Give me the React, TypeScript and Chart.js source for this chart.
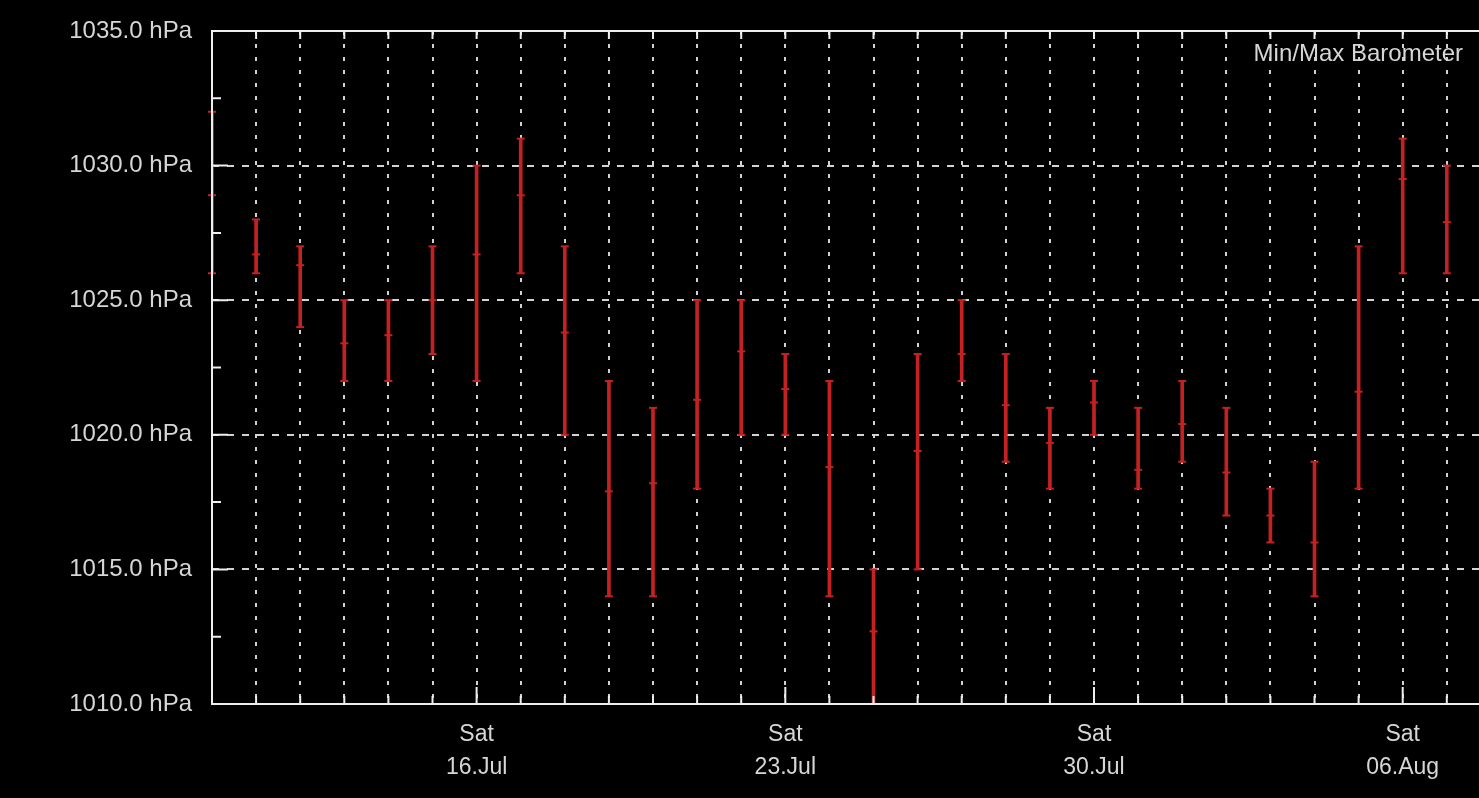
import React, { useEffect, useRef } from 'react';
import { Chart, registerables } from 'chart.js';

Chart.register(...registerables);

// ---- data ----
const dates = [
  '10.Jul', '11.Jul', '12.Jul', '13.Jul', '14.Jul', '15.Jul', '16.Jul',
  '17.Jul', '18.Jul', '19.Jul', '20.Jul', '21.Jul', '22.Jul', '23.Jul',
  '24.Jul', '25.Jul', '26.Jul', '27.Jul', '28.Jul', '29.Jul', '30.Jul',
  '31.Jul', '01.Aug', '02.Aug', '03.Aug', '04.Aug', '05.Aug', '06.Aug', '07.Aug',
];
const weekdays = [
  'Sun', 'Mon', 'Tue', 'Wed', 'Thu', 'Fri', 'Sat',
  'Sun', 'Mon', 'Tue', 'Wed', 'Thu', 'Fri', 'Sat',
  'Sun', 'Mon', 'Tue', 'Wed', 'Thu', 'Fri', 'Sat',
  'Sun', 'Mon', 'Tue', 'Wed', 'Thu', 'Fri', 'Sat', 'Sun',
];
const maxPressure = [
  1032, 1028, 1027, 1025, 1025, 1027, 1030, 1031, 1027, 1022, 1021, 1025, 1025, 1023,
  1022, 1015, 1023, 1025, 1023, 1021, 1022, 1021, 1022, 1021, 1018, 1019, 1027, 1031, 1030,
];
const avgPressure = [
  1028.9, 1026.7, 1026.3, 1023.4, 1023.7, 1025.0, 1026.7, 1028.9, 1023.8, 1017.9, 1018.2,
  1021.3, 1023.1, 1021.7, 1018.8, 1012.7, 1019.4, 1023.0, 1021.1, 1019.7, 1021.2, 1018.7,
  1020.4, 1018.6, 1017.0, 1016.0, 1021.6, 1029.5, 1027.9,
];
const minPressure = [
  1026, 1026, 1024, 1022, 1022, 1023, 1022, 1026, 1020, 1014, 1014, 1018, 1020, 1020,
  1014, 1009, 1015, 1022, 1019, 1018, 1020, 1018, 1019, 1017, 1016, 1014, 1018, 1026, 1026,
];
const yMin = 1010;
const yMax = 1035;
const yStep = 2.5;
const yLabelStep = 5;
const chartTitle = 'Min/Max Barometer';

const RED = '#c42222';
const GRID = '#d2d2d2';
const TEXT = '#d6d6d6';
const FRAME = '#eeeeee';
const FONT = '"Liberation Sans", Arial, sans-serif';

const framePlugin = {
  id: 'frame',
  afterDatasetsDraw(chart: any) {
    const { ctx, chartArea, scales } = chart;
    const { left, top, right, bottom } = chartArea;
    const x = scales.x;
    const y = scales.y;
    ctx.save();
    ctx.strokeStyle = FRAME;
    ctx.lineWidth = 2;
    ctx.setLineDash([]);
    ctx.beginPath();
    ctx.moveTo(right + 10, top);
    ctx.lineTo(left, top);
    ctx.lineTo(left, bottom);
    ctx.lineTo(right + 10, bottom);
    // y ticks (inward)
    y.ticks.forEach((t: any) => {
      if (t.value <= yMin || t.value >= yMax) return;
      const py = y.getPixelForValue(t.value);
      const major = t.value % yLabelStep === 0;
      ctx.moveTo(left, py);
      ctx.lineTo(left + (major ? 16 : 9), py);
    });
    // x ticks (inward, bottom and top)
    x.ticks.forEach((t: any) => {
      if (!Number.isInteger(t.value) || t.value <= 0) return;
      const px = x.getPixelForValue(t.value);
      const sat = weekdays[t.value] === 'Sat';
      ctx.moveTo(px, bottom);
      ctx.lineTo(px, bottom - (sat ? 17 : 8));
      ctx.moveTo(px, top);
      ctx.lineTo(px, top + 8);
    });
    ctx.stroke();
    ctx.font = `24px ${FONT}`;
    ctx.fillStyle = TEXT;
    ctx.textAlign = 'right';
    ctx.textBaseline = 'middle';
    ctx.fillText(chartTitle, 1463, top + 23);
    ctx.restore();
  },
};

export default function App() {
  const canvasRef = useRef<HTMLCanvasElement | null>(null);

  useEffect(() => {
    const canvas = canvasRef.current;
    if (!canvas) return;
    const idx = dates.map((_, i) => i);
    const pointDs = (values: number[]) => ({
      type: 'scatter' as const,
      data: idx.map((i) => ({ x: i, y: values[i] })),
      pointStyle: 'line',
      radius: 4,
      hoverRadius: 4,
      borderColor: RED,
      backgroundColor: RED,
      borderWidth: 2,
      showLine: false,
      clip: { left: 6, top: 0, right: 0, bottom: 0 },
    });
    const chart = new Chart(canvas, {
      type: 'bar',
      data: {
        datasets: [
          pointDs(maxPressure) as any,
          pointDs(avgPressure) as any,
          pointDs(minPressure) as any,
          {
            type: 'bar',
            data: idx.map((i) => ({ x: i, y: [minPressure[i], maxPressure[i]] })),
            backgroundColor: RED,
            borderWidth: 0,
            barThickness: 3,
            grouped: false,
          } as any,
        ],
      },
      options: {
        responsive: false,
        animation: false,
        devicePixelRatio: 1,
        layout: { autoPadding: false, padding: { top: 31, left: 0, right: 0, bottom: 0 } },
        plugins: {
          legend: { display: false },
          tooltip: { enabled: false },
          title: { display: false },
        },
        scales: {
          x: {
            type: 'linear',
            min: 0,
            max: 28.73,
            offset: false,
            afterFit: (s: any) => {
              s.height = 94;
              s.paddingLeft = 0;
              s.paddingRight = 0;
            },
            grid: {
              offset: false,
              drawTicks: false,
              lineWidth: 2,
              color: (c: any) =>
                c.tick && Number.isInteger(c.tick.value) && c.tick.value > 0 ? GRID : 'rgba(0,0,0,0)',
            },
            border: { display: false, dash: [4, 9] },
            ticks: {
              stepSize: 1,
              includeBounds: false,
              autoSkip: false,
              maxRotation: 0,
              minRotation: 0,
              maxTicksLimit: 100,
              padding: 14,
              color: TEXT,
              font: { family: FONT, size: 23, lineHeight: 1.43 },
              callback: (v: any) => {
                const i = Number(v);
                if (!Number.isInteger(i) || weekdays[i] !== 'Sat') return '';
                return [weekdays[i], dates[i]];
              },
            },
          },
          y: {
            type: 'linear',
            min: yMin,
            max: yMax,
            afterFit: (s: any) => {
              s.width = 212;
              s.paddingTop = 0;
              s.paddingBottom = 0;
            },
            grid: {
              drawTicks: false,
              lineWidth: 2,
              color: (c: any) =>
                c.tick && c.tick.value % yLabelStep === 0 && c.tick.value > yMin && c.tick.value < yMax
                  ? GRID
                  : 'rgba(0,0,0,0)',
            },
            border: { display: false, dash: [7, 8] },
            ticks: {
              stepSize: yStep,
              padding: 20,
              color: TEXT,
              font: { family: FONT, size: 24 },
              callback: (v: any) =>
                Number(v) % yLabelStep === 0 ? `${Number(v).toFixed(1)} hPa` : '',
            },
          },
        },
      },
      plugins: [framePlugin],
    });
    return () => chart.destroy();
  }, []);

  return (
    <div
      style={{
        position: 'fixed',
        left: 0,
        top: 0,
        width: 1479,
        height: 798,
        background: '#000',
        overflow: 'hidden',
      }}
    >
      <canvas ref={canvasRef} width={1479} height={798} style={{ display: 'block' }} />
    </div>
  );
}
